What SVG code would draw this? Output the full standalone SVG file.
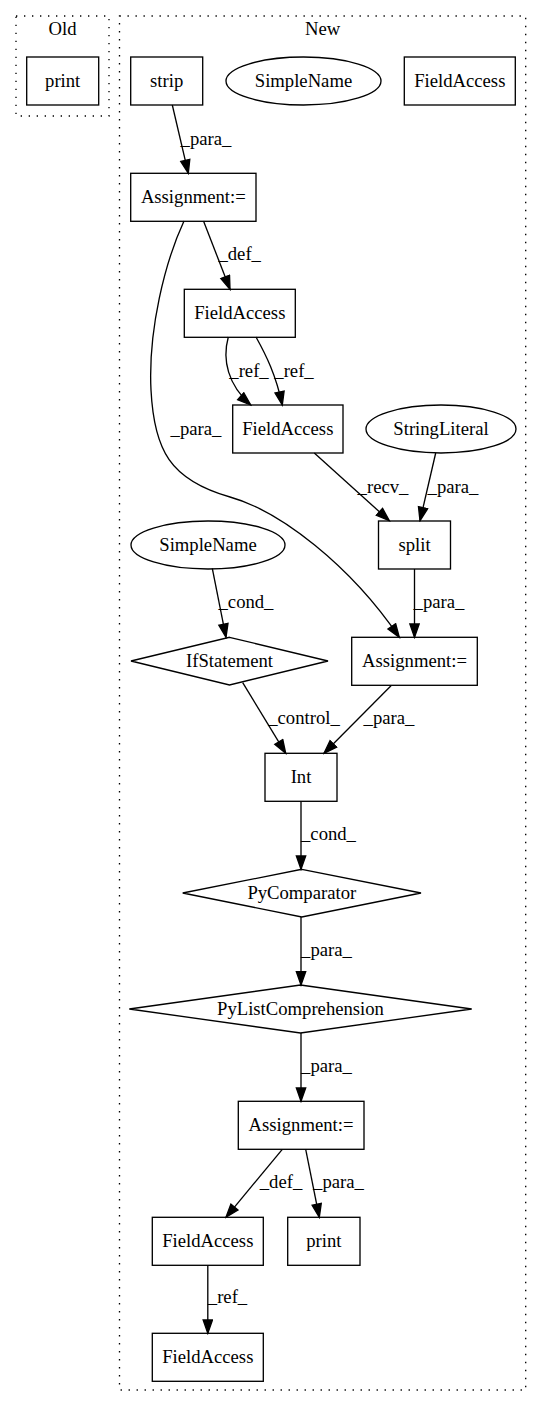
<svg xmlns="http://www.w3.org/2000/svg" width="543" height="1408" viewBox="0 0 543 1408">
<style>
text{font-family:"Liberation Serif","Times New Roman",serif;font-size:18.67px;fill:#000;text-anchor:middle}
.n{fill:none;stroke:#000;stroke-width:1.33}
.c{fill:none;stroke:#000;stroke-width:1.33;stroke-dasharray:1.33,6.67}
.e{fill:none;stroke:#000;stroke-width:1.33;marker-end:url(#ah)}
</style>
<defs>
<marker id="ah" markerUnits="userSpaceOnUse" markerWidth="16" markerHeight="12" refX="13.3" refY="4.67" orient="auto" viewBox="-1 -1 16 12">
<path d="M0,0 L13.3,4.67 L0,9.33 Z" fill="#000" stroke="#000" stroke-width="1.33"/>
</marker>
</defs>
<rect width="543" height="1408" fill="#fff"/>
<g id="cluster_old">
<rect class="c" x="16" y="16" width="93" height="100"/>
<text x="62.5" y="35">Old</text>
</g>
<g id="cluster_new">
<rect class="c" x="119.5" y="16" width="406.2" height="1374"/>
<text x="322.6" y="35">New</text>
</g>
<g id="edges">
<path class="e" d="M172.3,105 L188.3,173.3"/>
<text x="206" y="145">_para_</text>
<path class="e" d="M203.5,221 L230,289.3"/>
<text x="239.7" y="260">_def_</text>
<path class="e" d="M184,221 C165,262 148,330 151,390 C154,450 170,480 230,497 C280,511 350,565 399.3,637.3"/>
<text x="196" y="435">_para_</text>
<path class="e" d="M228.3,337 C222,360 228,385 250.7,405"/>
<text x="249" y="376.7">_ref_</text>
<path class="e" d="M256,337 C266,355 276,375 282.3,405"/>
<text x="294" y="376.7">_ref_</text>
<path class="e" d="M314.3,453 L389.3,520.7"/>
<text x="383" y="492.7">_recv_</text>
<path class="e" d="M435.7,453 L420,520.7"/>
<text x="453" y="492.7">_para_</text>
<path class="e" d="M212.3,568.3 L226,637.3"/>
<text x="246" y="608">_cond_</text>
<path class="e" d="M414.5,569 L414.5,637.3"/>
<text x="439" y="608">_para_</text>
<path class="e" d="M242.7,682.7 L285.7,753.3"/>
<text x="304" y="724.3">_control_</text>
<path class="e" d="M391,685.7 L324,753.3"/>
<text x="389" y="724.3">_para_</text>
<path class="e" d="M301,801.3 L301,869.3"/>
<text x="328.5" y="840">_cond_</text>
<path class="e" d="M301,917 L301,985"/>
<text x="326.5" y="956">_para_</text>
<path class="e" d="M301,1033 L301,1101.3"/>
<text x="326.5" y="1071.7">_para_</text>
<path class="e" d="M282.3,1149.3 L226,1217.3"/>
<text x="281" y="1187.7">_def_</text>
<path class="e" d="M305.7,1149.3 L319.3,1217.3"/>
<text x="338.5" y="1187.7">_para_</text>
<path class="e" d="M207.8,1265.3 L207.8,1333.3"/>
<text x="227.5" y="1303.3">_ref_</text>
</g>
<g id="old_print"><rect class="n" x="26.7" y="57" width="72" height="48"/><text x="62.7" y="86.6">print</text></g>
<g id="strip"><rect class="n" x="130.7" y="57" width="72" height="48"/><text x="166.7" y="86.6">strip</text></g>
<g id="simplename1"><ellipse class="n" cx="303.5" cy="81" rx="77.5" ry="24"/><text x="303.5" y="86.6">SimpleName</text></g>
<g id="fieldaccess0"><rect class="n" x="404.3" y="57" width="111" height="48"/><text x="459.8" y="86.6">FieldAccess</text></g>
<g id="assign1"><rect class="n" x="130.7" y="173.3" width="125.3" height="48"/><text x="193.3" y="202.6">Assignment:=</text></g>
<g id="fieldaccess1"><rect class="n" x="184.3" y="289.3" width="111" height="48"/><text x="239.8" y="318.6">FieldAccess</text></g>
<g id="fieldaccess2"><rect class="n" x="232.7" y="405" width="110.3" height="48"/><text x="287.8" y="434.6">FieldAccess</text></g>
<g id="stringliteral"><ellipse class="n" cx="441" cy="429" rx="75" ry="24"/><text x="441" y="434.6">StringLiteral</text></g>
<g id="split"><rect class="n" x="378.5" y="521" width="72" height="48"/><text x="414.5" y="550.6">split</text></g>
<g id="simplename2"><ellipse class="n" cx="208" cy="545" rx="77" ry="24"/><text x="208" y="550.6">SimpleName</text></g>
<g id="ifstatement"><polygon class="n" points="229.5,637.3 328,661 229.5,685 131,661"/><text x="229.5" y="666.6">IfStatement</text></g>
<g id="assign2"><rect class="n" x="351.7" y="637.3" width="125.6" height="48"/><text x="414.5" y="666.6">Assignment:=</text></g>
<g id="int"><rect class="n" x="265" y="753.3" width="72" height="48"/><text x="301" y="782.6">Int</text></g>
<g id="pycomparator"><polygon class="n" points="301.8,869.3 421,893 301.8,917 182.7,893"/><text x="301.8" y="898.6">PyComparator</text></g>
<g id="pylistcomp"><polygon class="n" points="300.5,985 471.7,1009 300.5,1033 129.3,1009"/><text x="300.5" y="1014.6">PyListComprehension</text></g>
<g id="assign3"><rect class="n" x="238.3" y="1101.3" width="125.7" height="48"/><text x="301" y="1130.6">Assignment:=</text></g>
<g id="fieldaccess3"><rect class="n" x="152.3" y="1217.3" width="111" height="48"/><text x="207.8" y="1246.6">FieldAccess</text></g>
<g id="print2"><rect class="n" x="287.7" y="1217.3" width="72.3" height="48"/><text x="323.8" y="1246.6">print</text></g>
<g id="fieldaccess4"><rect class="n" x="152.3" y="1333.3" width="111" height="48"/><text x="207.8" y="1362.6">FieldAccess</text></g>
</svg>
